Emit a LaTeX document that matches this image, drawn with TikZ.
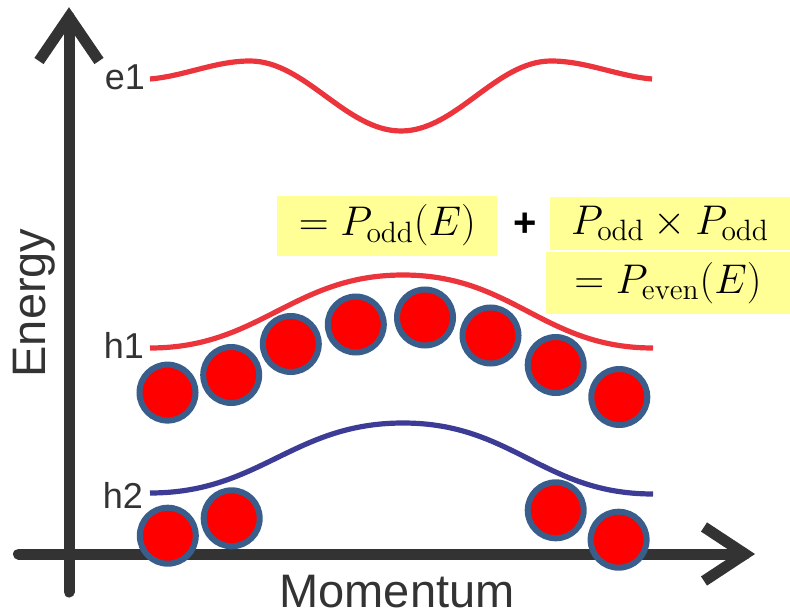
\documentclass[tikz,border=0pt]{standalone}
\usepackage{fontspec}
\setsansfont{Liberation Sans}
\usetikzlibrary{positioning}
\definecolor{axisgray}{RGB}{52,51,52}
\definecolor{bandred}{RGB}{236,52,60}
\definecolor{bandblue}{RGB}{60,60,150}
\definecolor{holered}{RGB}{255,0,0}
\definecolor{holeedge}{RGB}{58,94,140}
\definecolor{notepad}{RGB}{255,255,150}

\begin{document}
\begin{tikzpicture}[x=0.5pt, y=-0.5pt,
    axis/.style={draw=axisgray, line width=5.5pt},
    band/.style={line width=2.6pt},
    hole/.style={circle, draw=holeedge, fill=holered, line width=3pt, minimum size=28pt, inner sep=0pt},
    level/.style={text=axisgray, font=\sffamily\fontsize{18}{18}\selectfont, anchor=base},
    title/.style={text=axisgray, font=\sffamily\fontsize{23.5}{24}\selectfont, anchor=base},
    formula/.style={fill=notepad, inner sep=0pt, font=\fontsize{21}{22}\selectfont}
]
    \useasboundingbox (0,0) rectangle (790,614);

    % axes
    \coordinate (origin) at (69,554);
    \coordinate (ytip) at (69,17);
    \coordinate (xtip) at (745,554);
    \draw[axis, line cap=round] (69,592) -- (ytip);
    \draw[axis, line cap=round] (18.5,554) -- (xtip);
    \draw[axis, miter limit=20] (39,61) -- (ytip) -- (99,61);
    \draw[axis, miter limit=20] (704,527) -- (xtip) -- (704,581);

    \node[title, rotate=90] (energy) at (45,303) {Energy};
    \node[title] (momentum) at (397,607) {Momentum};

    % carriers
    \foreach \cx/\cy [count=\i] in {167.5/392.6, 231.2/375, 290.8/344, 355.8/324.5,
                                   425/317.5, 490.5/335.5, 555.7/365, 619.3/397}
        \node[hole] (hh\i) at (\cx,\cy) {};
    \foreach \cx/\cy [count=\i] in {167.8/535.7, 231.7/518.3, 555.7/510.3, 618.6/539.7}
        \node[hole] (lh\i) at (\cx,\cy) {};

    % bands
    \draw[band, bandred] (150,79) .. controls (185,76) and (215,61) .. (250,61)
        .. controls (305,61) and (346,131) .. (401,131)
        .. controls (456,131) and (496,61) .. (551,61)
        .. controls (586,61) and (617,76) .. (652,79);
    \draw[band, bandred] (150,348) .. controls (260,348) and (293,275) .. (403,275)
        .. controls (513,275) and (543,348) .. (653,348);
    \draw[band, bandblue] (150,493) .. controls (260,493) and (293,423) .. (403,423)
        .. controls (513,423) and (543,494) .. (653,494);

    \node[level] (e1) at (125,90) {e1};
    \node[level] (h1) at (124,358) {h1};
    \node[level] (h2) at (123,508) {h2};

    % parity
    \node[formula, minimum width=110pt, minimum height=30pt] (podd) at (387.4,225.6) {$=P_{\mathrm{odd}}(E)$};
    \node[font=\sffamily\bfseries\fontsize{20}{20}\selectfont] (plus) at (525,225) {+};
    \node[formula, minimum width=120pt, minimum height=26.5pt] (prod) at (670,223.4) {$P_{\mathrm{odd}}\times P_{\mathrm{odd}}$};
    \node[formula, minimum width=122pt, minimum height=31.3pt] (peven) at (668,283) {$=P_{\mathrm{even}}(E)$};
\end{tikzpicture}
\end{document}
